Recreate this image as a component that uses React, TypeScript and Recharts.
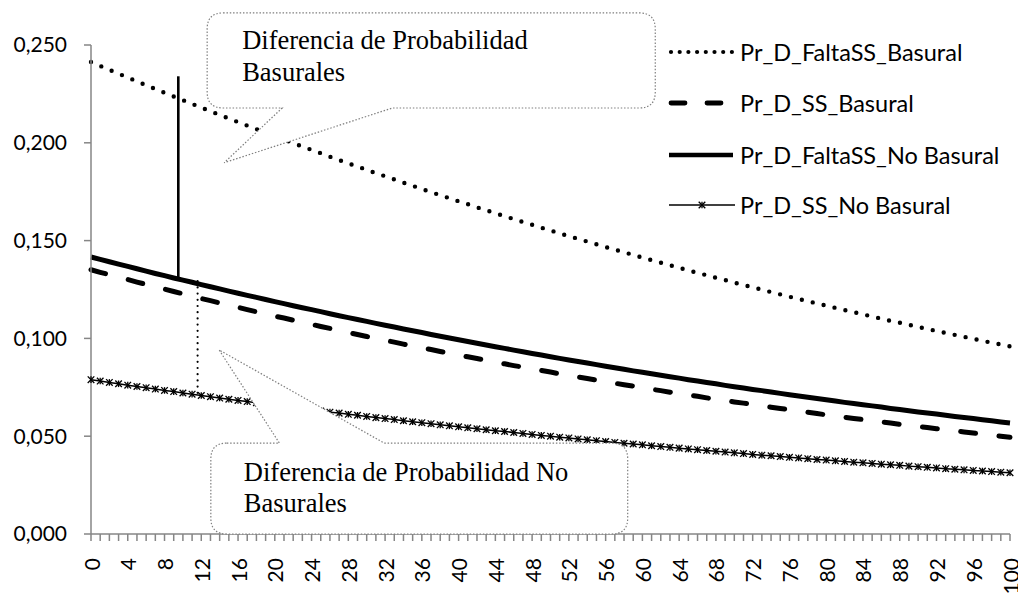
import React from "react";
import {
  LineChart,
  Line,
  XAxis,
  YAxis,
  ReferenceLine,
  ReferenceArea,
} from "recharts";

// x categories (0..100) and the labelled ones
const xValues = Array.from({ length: 101 }, (_, i) => i);
const xLabels = [
  0, 4, 8, 12, 16, 20, 24, 28, 32, 36, 40, 44, 48, 52, 56, 60, 64, 68, 72, 76,
  80, 84, 88, 92, 96, 100,
];
const yTicks = [0, 0.05, 0.1, 0.15, 0.2, 0.25];

const seriesNames = [
  "Pr_D_FaltaSS_Basural",
  "Pr_D_SS_Basural",
  "Pr_D_FaltaSS_No Basural",
  "Pr_D_SS_No Basural",
];

const faltaSSBasural = [
  0.2413, 0.2393, 0.2373, 0.2353, 0.2334, 0.2314, 0.2294, 0.2275, 0.2256, 0.2237,
  0.2218, 0.2199, 0.218, 0.2161, 0.2143, 0.2124, 0.2106, 0.2088, 0.207, 0.2052,
  0.2034, 0.2016, 0.1999, 0.1981, 0.1964, 0.1947, 0.1929, 0.1912, 0.1895, 0.1879,
  0.1862, 0.1845, 0.1829, 0.1813, 0.1796, 0.178, 0.1764, 0.1748, 0.1732, 0.1717,
  0.1701, 0.1686, 0.167, 0.1655, 0.164, 0.1625, 0.161, 0.1595, 0.1581, 0.1566,
  0.1552, 0.1537, 0.1523, 0.1509, 0.1495, 0.1481, 0.1467, 0.1454, 0.144, 0.1427,
  0.1413, 0.14, 0.1387, 0.1374, 0.1361, 0.1348, 0.1335, 0.1323, 0.131, 0.1298,
  0.1285, 0.1273, 0.1261, 0.1249, 0.1237, 0.1225, 0.1213, 0.1202, 0.119, 0.1179,
  0.1167, 0.1156, 0.1145, 0.1134, 0.1123, 0.1112, 0.1101, 0.109, 0.108, 0.1069,
  0.1059, 0.1048, 0.1038, 0.1028, 0.1018, 0.1008, 0.0998, 0.0988, 0.0978, 0.0969,
  0.0959,
];

const ssBasural = [
  0.1351, 0.1338, 0.1326, 0.1313, 0.1301, 0.1288, 0.1276, 0.1264, 0.1252, 0.124,
  0.1228, 0.1216, 0.1204, 0.1193, 0.1181, 0.117, 0.1159, 0.1147, 0.1136, 0.1125,
  0.1114, 0.1104, 0.1093, 0.1082, 0.1072, 0.1061, 0.1051, 0.1041, 0.103, 0.102,
  0.101, 0.1, 0.099, 0.0981, 0.0971, 0.0961, 0.0952, 0.0943, 0.0933, 0.0924,
  0.0915, 0.0906, 0.0897, 0.0888, 0.0879, 0.087, 0.0861, 0.0853, 0.0844, 0.0836,
  0.0828, 0.0819, 0.0811, 0.0803, 0.0795, 0.0787, 0.0779, 0.0771, 0.0763, 0.0756,
  0.0748, 0.074, 0.0733, 0.0725, 0.0718, 0.0711, 0.0704, 0.0696, 0.0689, 0.0682,
  0.0675, 0.0669, 0.0662, 0.0655, 0.0648, 0.0642, 0.0635, 0.0629, 0.0622, 0.0616,
  0.0609, 0.0603, 0.0597, 0.0591, 0.0585, 0.0579, 0.0573, 0.0567, 0.0561, 0.0555,
  0.055, 0.0544, 0.0538, 0.0533, 0.0527, 0.0522, 0.0516, 0.0511, 0.0506, 0.05,
  0.0495,
];

const faltaSSNoBasural = [
  0.1416, 0.1404, 0.1392, 0.138, 0.1368, 0.1356, 0.1344, 0.1332, 0.1321, 0.1309,
  0.1298, 0.1287, 0.1275, 0.1264, 0.1253, 0.1242, 0.1231, 0.122, 0.121, 0.1199,
  0.1188, 0.1178, 0.1167, 0.1157, 0.1147, 0.1137, 0.1126, 0.1116, 0.1106, 0.1097,
  0.1087, 0.1077, 0.1067, 0.1058, 0.1048, 0.1039, 0.103, 0.102, 0.1011, 0.1002,
  0.0993, 0.0984, 0.0975, 0.0966, 0.0957, 0.0949, 0.094, 0.0932, 0.0923, 0.0915,
  0.0906, 0.0898, 0.089, 0.0882, 0.0874, 0.0866, 0.0858, 0.085, 0.0842, 0.0834,
  0.0827, 0.0819, 0.0812, 0.0804, 0.0797, 0.0789, 0.0782, 0.0775, 0.0768, 0.076,
  0.0753, 0.0746, 0.0739, 0.0733, 0.0726, 0.0719, 0.0712, 0.0706, 0.0699, 0.0693,
  0.0686, 0.068, 0.0673, 0.0667, 0.0661, 0.0655, 0.0649, 0.0642, 0.0636, 0.063,
  0.0624, 0.0619, 0.0613, 0.0607, 0.0601, 0.0596, 0.059, 0.0584, 0.0579, 0.0573,
  0.0568,
];

const ssNoBasural = [
  0.0789, 0.0782, 0.0775, 0.0768, 0.0761, 0.0754, 0.0748, 0.0741, 0.0734, 0.0728,
  0.0721, 0.0715, 0.0708, 0.0702, 0.0695, 0.0689, 0.0683, 0.0677, 0.0671, 0.0664,
  0.0658, 0.0653, 0.0647, 0.0641, 0.0635, 0.0629, 0.0623, 0.0618, 0.0612, 0.0607,
  0.0601, 0.0595, 0.059, 0.0585, 0.0579, 0.0574, 0.0569, 0.0564, 0.0558, 0.0553,
  0.0548, 0.0543, 0.0538, 0.0533, 0.0528, 0.0524, 0.0519, 0.0514, 0.0509, 0.0504,
  0.05, 0.0495, 0.0491, 0.0486, 0.0482, 0.0477, 0.0473, 0.0468, 0.0464, 0.046,
  0.0456, 0.0451, 0.0447, 0.0443, 0.0439, 0.0435, 0.0431, 0.0427, 0.0423, 0.0419,
  0.0415, 0.0411, 0.0407, 0.0403, 0.04, 0.0396, 0.0392, 0.0389, 0.0385, 0.0381,
  0.0378, 0.0374, 0.0371, 0.0367, 0.0364, 0.0361, 0.0357, 0.0354, 0.0351, 0.0347,
  0.0344, 0.0341, 0.0338, 0.0334, 0.0331, 0.0328, 0.0325, 0.0322, 0.0319, 0.0316,
  0.0313,
];

const data = xValues.map((x, i) => ({
  x,
  faltaSSBasural: faltaSSBasural[i],
  ssBasural: ssBasural[i],
  faltaSSNoBasural: faltaSSNoBasural[i],
  ssNoBasural: ssNoBasural[i],
}));

// callout annotations, in data coordinates
const topCallout = {
  x1: 12.64, x2: 61.4, y1: 0.2178, y2: 0.2664,
  tip: { x: 14.49, y: 0.1898 }, base: [20.8, 32.8], side: "bottom",
  lines: ["Diferencia de Probabilidad", "Basurales"],
  dx: 35, dy: 36, gap: 32,
};
const bottomCallout = {
  x1: 13.04, x2: 58.4, y1: 0, y2: 0.0465,
  tip: { x: 13.94, y: 0.0941 }, base: [20.5, 31.9], side: "top",
  lines: ["Diferencia de Probabilidad No", "Basurales"],
  dx: 33, dy: 38, gap: 31,
};

const W = 1018;
const H = 595;
const MARGIN = { top: 45, right: 8, bottom: 0, left: 0 };
const X_AXIS_H = 61;
const Y_AXIS_W = 91;

const AXIS = "#868686";
const SANS = "Lato, 'Noto Sans', sans-serif";
const SERIF = "'Liberation Serif', 'Times New Roman', serif";

function CalloutShape(props: any) {
  const { x, y, width, height, spec } = props;
  if (x == null || width == null) return null;
  const sx = width / (spec.x2 - spec.x1);
  const sy = height / (spec.y2 - spec.y1);
  const px = (v: number) => x + (v - spec.x1) * sx;
  const py = (v: number) => y + (spec.y2 - v) * sy;
  const r = 16;
  const tx = px(spec.tip.x);
  const ty = py(spec.tip.y);
  const b1 = px(spec.base[0]);
  const b2 = px(spec.base[1]);
  const R = x + width;
  const B = y + height;
  let d = "";
  if (spec.side === "bottom") {
    d = `M${x + r},${y} H${R - r} Q${R},${y} ${R},${y + r} V${B - r} Q${R},${B} ${R - r},${B} H${b2} L${tx},${ty} L${b1},${B} H${x + r} Q${x},${B} ${x},${B - r} V${y + r} Q${x},${y} ${x + r},${y} Z`;
  } else {
    d = `M${x + r},${y} H${b1} L${tx},${ty} L${b2},${y} H${R - r} Q${R},${y} ${R},${y + r} V${B - r} Q${R},${B} ${R - r},${B} H${x + r} Q${x},${B} ${x},${B - r} V${y + r} Q${x},${y} ${x + r},${y} Z`;
  }
  return (
    <g>
      <path d={d} fill="#fff" stroke="#7f7f7f" strokeWidth={1.2} strokeDasharray="1.5 1.8" />
      <text x={x + spec.dx} y={y + spec.dy} fontFamily={SERIF} fontSize={26.5} fill="#000">
        {spec.lines.map((t: string, i: number) => (
          <tspan key={i} x={x + spec.dx} dy={i === 0 ? 0 : spec.gap}>
            {t}
          </tspan>
        ))}
      </text>
    </g>
  );
}

function XTick(props: any) {
  const { x, y, payload } = props;
  const v = payload.value;
  const ly = y + 24;
  return (
    <g>
      <line x1={x} y1={y} x2={x} y2={y + 7} stroke={AXIS} strokeWidth={1.5} />
      {xLabels.includes(v) && (
        <text
          x={x}
          y={ly}
          transform={`rotate(-90 ${x} ${ly})`}
          textAnchor="end"
          dominantBaseline="central"
          fontSize={21}
          fontFamily={SANS}
          fill="#000"
        >
          {v}
        </text>
      )}
    </g>
  );
}

function Star(props: any) {
  const { cx, cy, index } = props;
  if (cx == null || cy == null) return <g key={`st-${index}`} />;
  const s = 3.3;
  return (
    <g key={`st-${index}`} stroke="#000" strokeWidth={1.3}>
      <line x1={cx - s} y1={cy - s} x2={cx + s} y2={cy + s} />
      <line x1={cx - s} y1={cy + s} x2={cx + s} y2={cy - s} />
      <line x1={cx} y1={cy - s} x2={cx} y2={cy + s} />
    </g>
  );
}

function LegendOverlay() {
  const rows = [52, 103, 155, 205];
  const x0 = 669;
  const x1 = 733;
  return (
    <svg
      width={W}
      height={H}
      style={{ position: "absolute", left: 0, top: 0, pointerEvents: "none" }}
    >
      <line x1={x0 + 2} y1={rows[0]} x2={x1} y2={rows[0]} stroke="#000" strokeWidth={4.2} strokeDasharray="0 8.7" strokeLinecap="round" />
      <line x1={x0 + 2} y1={rows[1]} x2={x1 - 10} y2={rows[1]} stroke="#000" strokeWidth={4.8} strokeDasharray="14 22" strokeLinecap="round" />
      <line x1={x0} y1={rows[2]} x2={x1} y2={rows[2]} stroke="#000" strokeWidth={4.5} />
      <line x1={x0} y1={rows[3]} x2={x1 + 2} y2={rows[3]} stroke="#000" strokeWidth={1.5} />
      <Star cx={702} cy={rows[3]} index="legend" />
      {seriesNames.map((name, i) => (
        <text key={name} x={740} y={rows[i]} dominantBaseline="central" fontSize={23.5} fontFamily={SANS} fill="#000">
          {name}
        </text>
      ))}
    </svg>
  );
}

// second transparent chart on top, same scales, so the callouts cover the series
function CalloutLayer() {
  return (
    <div style={{ position: "absolute", left: 0, top: 0, pointerEvents: "none" }}>
      <LineChart width={W} height={H} data={data} margin={MARGIN}>
        <XAxis
          type="number"
          dataKey="x"
          domain={[0, 100]}
          height={X_AXIS_H}
          axisLine={false}
          tickLine={false}
          tick={false}
        />
        <YAxis
          type="number"
          domain={[0, 0.25]}
          width={Y_AXIS_W}
          axisLine={false}
          tickLine={false}
          tick={false}
        />
        <Line
          type="linear"
          dataKey="ssNoBasural"
          stroke="none"
          strokeWidth={0}
          dot={false}
          activeDot={false}
          legendType="none"
          isAnimationActive={false}
        />
        <ReferenceArea
          x1={topCallout.x1}
          x2={topCallout.x2}
          y1={topCallout.y1}
          y2={topCallout.y2}
          ifOverflow="visible"
          shape={(p: any) => <CalloutShape {...p} spec={topCallout} />}
        />
        <ReferenceArea
          x1={bottomCallout.x1}
          x2={bottomCallout.x2}
          y1={bottomCallout.y1}
          y2={bottomCallout.y2}
          ifOverflow="visible"
          shape={(p: any) => <CalloutShape {...p} spec={bottomCallout} />}
        />
      </LineChart>
    </div>
  );
}

export default function App() {
  return (
    <div style={{ position: "absolute", left: 0, top: 0, width: W, height: H, background: "#fff" }}>
      <LineChart width={W} height={H} data={data} margin={MARGIN} style={{ fontFamily: SANS }}>
        <XAxis
          type="number"
          dataKey="x"
          domain={[0, 100]}
          ticks={xValues}
          interval={0}
          height={X_AXIS_H}
          tickSize={0}
          tickMargin={0}
          tickLine={false}
          axisLine={{ stroke: AXIS, strokeWidth: 1.5 }}
          tick={(p: any) => <XTick {...p} />}
        />
        <YAxis
          type="number"
          domain={[0, 0.25]}
          ticks={yTicks}
          width={Y_AXIS_W}
          tickSize={7}
          tickMargin={17}
          axisLine={{ stroke: AXIS, strokeWidth: 1.5 }}
          tickLine={{ stroke: AXIS, strokeWidth: 1.5 }}
          tick={{ fill: "#000", fontSize: 21, fontFamily: SANS }}
          tickFormatter={(v: number) => v.toFixed(3).replace(".", ",")}
        />
        <Line
          type="linear"
          dataKey="faltaSSBasural"
          name={seriesNames[0]}
          stroke="#000"
          strokeWidth={4.4}
          strokeDasharray="0 11.2"
          strokeLinecap="round"
          dot={false}
          activeDot={false}
          isAnimationActive={false}
        />
        <Line
          type="linear"
          dataKey="ssBasural"
          name={seriesNames[1]}
          stroke="#000"
          strokeWidth={5}
          strokeDasharray="15 23.5"
          strokeLinecap="round"
          dot={false}
          activeDot={false}
          isAnimationActive={false}
        />
        <Line
          type="linear"
          dataKey="faltaSSNoBasural"
          name={seriesNames[2]}
          stroke="#000"
          strokeWidth={5}
          dot={false}
          activeDot={false}
          isAnimationActive={false}
        />
        <Line
          type="linear"
          dataKey="ssNoBasural"
          name={seriesNames[3]}
          stroke="#000"
          strokeWidth={1.5}
          dot={(p: any) => <Star {...p} key={`st-${p.index}`} />}
          activeDot={false}
          isAnimationActive={false}
        />
        <ReferenceLine
          segment={[
            { x: 9.5, y: 0.13 },
            { x: 9.5, y: 0.234 },
          ]}
          stroke="#000"
          strokeWidth={2.6}
          ifOverflow="visible"
        />
        <ReferenceLine
          segment={[
            { x: 11.6, y: 0.0722 },
            { x: 11.6, y: 0.1317 },
          ]}
          stroke="#000"
          strokeWidth={2.2}
          strokeDasharray="0 6.2"
          strokeLinecap="round"
          ifOverflow="visible"
        />
      </LineChart>
      <CalloutLayer />
      <LegendOverlay />
    </div>
  );
}
